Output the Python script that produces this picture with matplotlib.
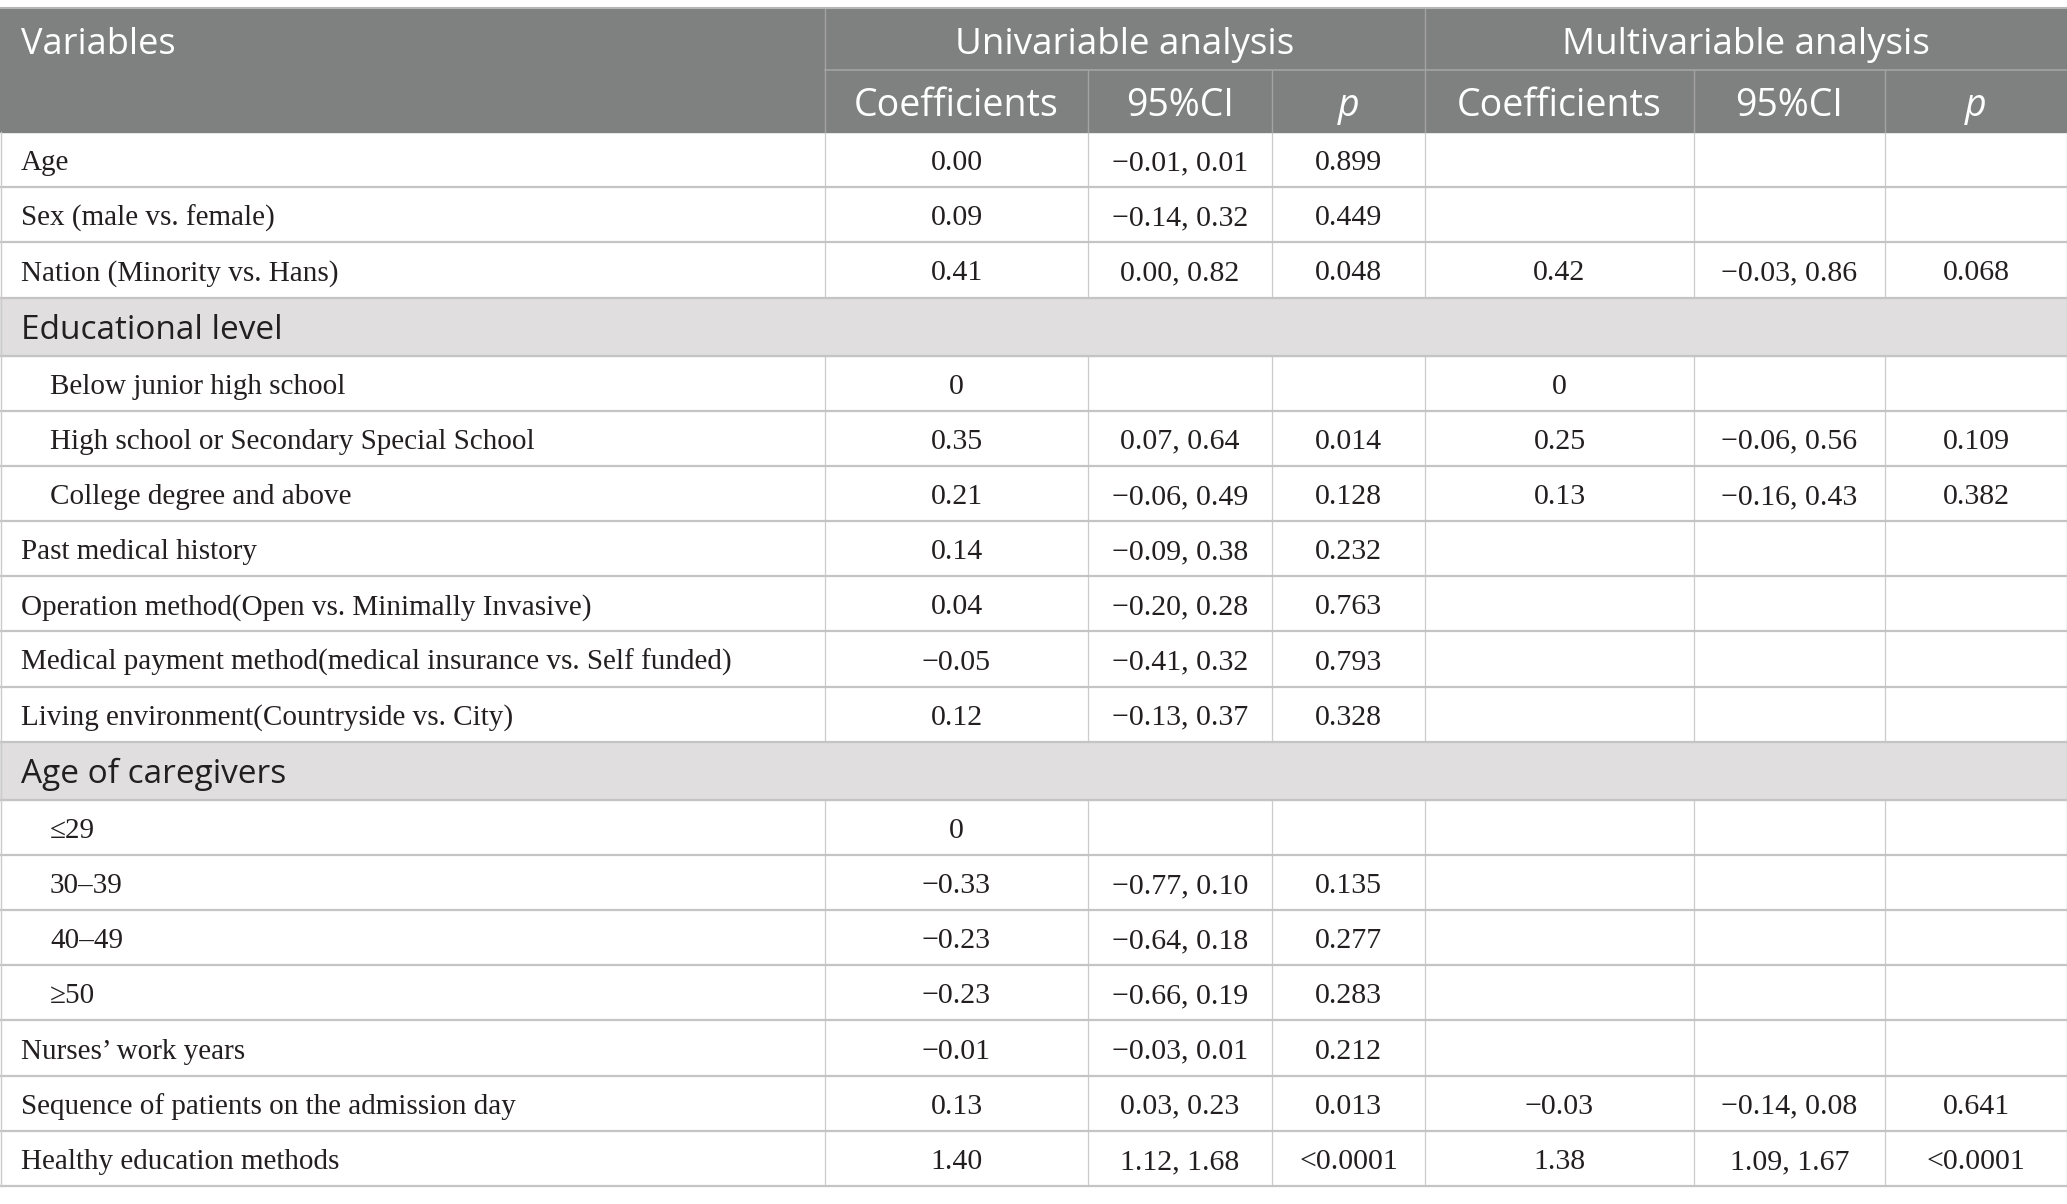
import matplotlib.pyplot as plt
from matplotlib.patches import Rectangle

# table content
labels = [
    "Age", "Sex (male vs. female)", "Nation (Minority vs. Hans)",
    "Educational level",
    "Below junior high school", "High school or Secondary Special School", "College degree and above",
    "Past medical history", "Operation method(Open vs. Minimally Invasive)",
    "Medical payment method(medical insurance vs. Self funded)",
    "Living environment(Countryside vs. City)",
    "Age of caregivers",
    "\u226429", "30\u201339", "40\u201349", "\u226550",
    "Nurses\u2019 work years", "Sequence of patients on the admission day", "Healthy education methods",
]
section = [0, 0, 0, 1, 0, 0, 0, 0, 0, 0, 0, 1, 0, 0, 0, 0, 0, 0, 0]
indent = [0, 0, 0, 0, 1, 1, 1, 0, 0, 0, 0, 0, 1, 1, 1, 1, 0, 0, 0]

uni_coef = ["0.00", "0.09", "0.41", "", "0", "0.35", "0.21", "0.14", "0.04", "\u22120.05", "0.12",
            "", "0", "\u22120.33", "\u22120.23", "\u22120.23", "\u22120.01", "0.13", "1.40"]
uni_ci = ["\u22120.01, 0.01", "\u22120.14, 0.32", "0.00, 0.82", "", "", "0.07, 0.64", "\u22120.06, 0.49",
          "\u22120.09, 0.38", "\u22120.20, 0.28", "\u22120.41, 0.32", "\u22120.13, 0.37", "", "",
          "\u22120.77, 0.10", "\u22120.64, 0.18", "\u22120.66, 0.19", "\u22120.03, 0.01", "0.03, 0.23", "1.12, 1.68"]
uni_p = ["0.899", "0.449", "0.048", "", "", "0.014", "0.128", "0.232", "0.763", "0.793", "0.328", "", "",
         "0.135", "0.277", "0.283", "0.212", "0.013", "<0.0001"]
multi_coef = ["", "", "0.42", "", "0", "0.25", "0.13", "", "", "", "", "", "", "", "", "", "", "\u22120.03", "1.38"]
multi_ci = ["", "", "\u22120.03, 0.86", "", "", "\u22120.06, 0.56", "\u22120.16, 0.43", "", "", "", "", "",
            "", "", "", "", "", "\u22120.14, 0.08", "1.09, 1.67"]
multi_p = ["", "", "0.068", "", "", "0.109", "0.382", "", "", "", "", "", "", "", "", "", "", "0.641", "<0.0001"]

groups = ["Univariable analysis", "Multivariable analysis"]
subcols = ["Coefficients", "95%CI", "p"]

W, H = 2067, 1204
col_x = [0, 825, 1088, 1272, 1425, 1694, 1885, 2067]
top, head_mid, head_bot, bottom = 8, 70, 132, 1186
sec_h = 58.0
row_h = (bottom - head_bot - sec_h * sum(section)) / (len(labels) - sum(section))

HEAD_BG = "#7f8180"
SEC_BG = "#e0dedf"
GRID = "#c4c4c4"
TXT = "#231f20"
sans = "Open Sans"
serif = "Liberation Serif"

fig = plt.figure(figsize=(W / 100, H / 100), dpi=100)
ax = fig.add_axes([0, 0, 1, 1])
ax.set_xlim(0, W)
ax.set_ylim(H, 0)
ax.axis("off")

# header block
ax.add_patch(Rectangle((0, top), W, head_bot - top, color=HEAD_BG, zorder=0))
ax.text(21, (top + head_mid) / 2 + 6, "Variables", color="white", fontsize=26, family=sans,
        ha="left", va="center")
for g, name in enumerate(groups):
    x0, x1 = col_x[1 + 3 * g], col_x[4 + 3 * g]
    ax.text((x0 + x1) / 2, (top + head_mid) / 2 + 6, name, color="white", fontsize=26.5, family=sans,
            ha="center", va="center")
    for k, sc in enumerate(subcols):
        cx = (col_x[1 + 3 * g + k] + col_x[2 + 3 * g + k]) / 2
        ax.text(cx, (head_mid + head_bot) / 2 + 5, sc, color="white", fontsize=27, family=sans,
                style="italic" if sc == "p" else "normal", ha="center", va="center")
ax.plot([col_x[1], W], [head_mid, head_mid], color="#a3a3a3", lw=1.2, zorder=2)
ax.plot([col_x[1], col_x[1]], [top, head_bot], color="#a3a3a3", lw=1.0, zorder=2)
ax.plot([col_x[4], col_x[4]], [top, head_bot], color="#a3a3a3", lw=1.0, zorder=2)
for x in [col_x[2], col_x[3], col_x[5], col_x[6]]:
    ax.plot([x, x], [head_mid, head_bot], color="#a3a3a3", lw=1.0, zorder=2)
ax.plot([0, W], [top, top], color="#b5b5b5", lw=1.5, zorder=2)

# body rows
y = head_bot
for i, lab in enumerate(labels):
    h = sec_h if section[i] else row_h
    yc = y + h / 2 + 3.5
    if section[i]:
        ax.add_patch(Rectangle((0, y), W, h, color=SEC_BG, zorder=0))
        ax.text(21, yc, lab, color=TXT, fontsize=24, family=sans, ha="left", va="center")
    else:
        ax.text(21 + 29 * indent[i], yc, lab, color=TXT, fontsize=21, family=serif,
                ha="left", va="center")
        vals = [uni_coef[i], uni_ci[i], uni_p[i], multi_coef[i], multi_ci[i], multi_p[i]]
        for k, v in enumerate(vals):
            cx = (col_x[1 + k] + col_x[2 + k]) / 2
            ax.text(cx, yc, v, color=TXT, fontsize=21.5, family=serif, ha="center", va="center")
        for x in col_x[1:-1]:
            ax.plot([x, x], [y, y + h], color="#cbcbcb", lw=0.9, zorder=1)
    ax.plot([0, W], [y + h, y + h], color=GRID, lw=1.6, zorder=2)
    y += h

ax.plot([0.5, 0.5], [head_bot, bottom], color="#cbcbcb", lw=1.0)
ax.plot([W - 0.5, W - 0.5], [head_bot, bottom], color="#cbcbcb", lw=1.0)

fig.savefig("out.png", dpi=100, facecolor="white")
